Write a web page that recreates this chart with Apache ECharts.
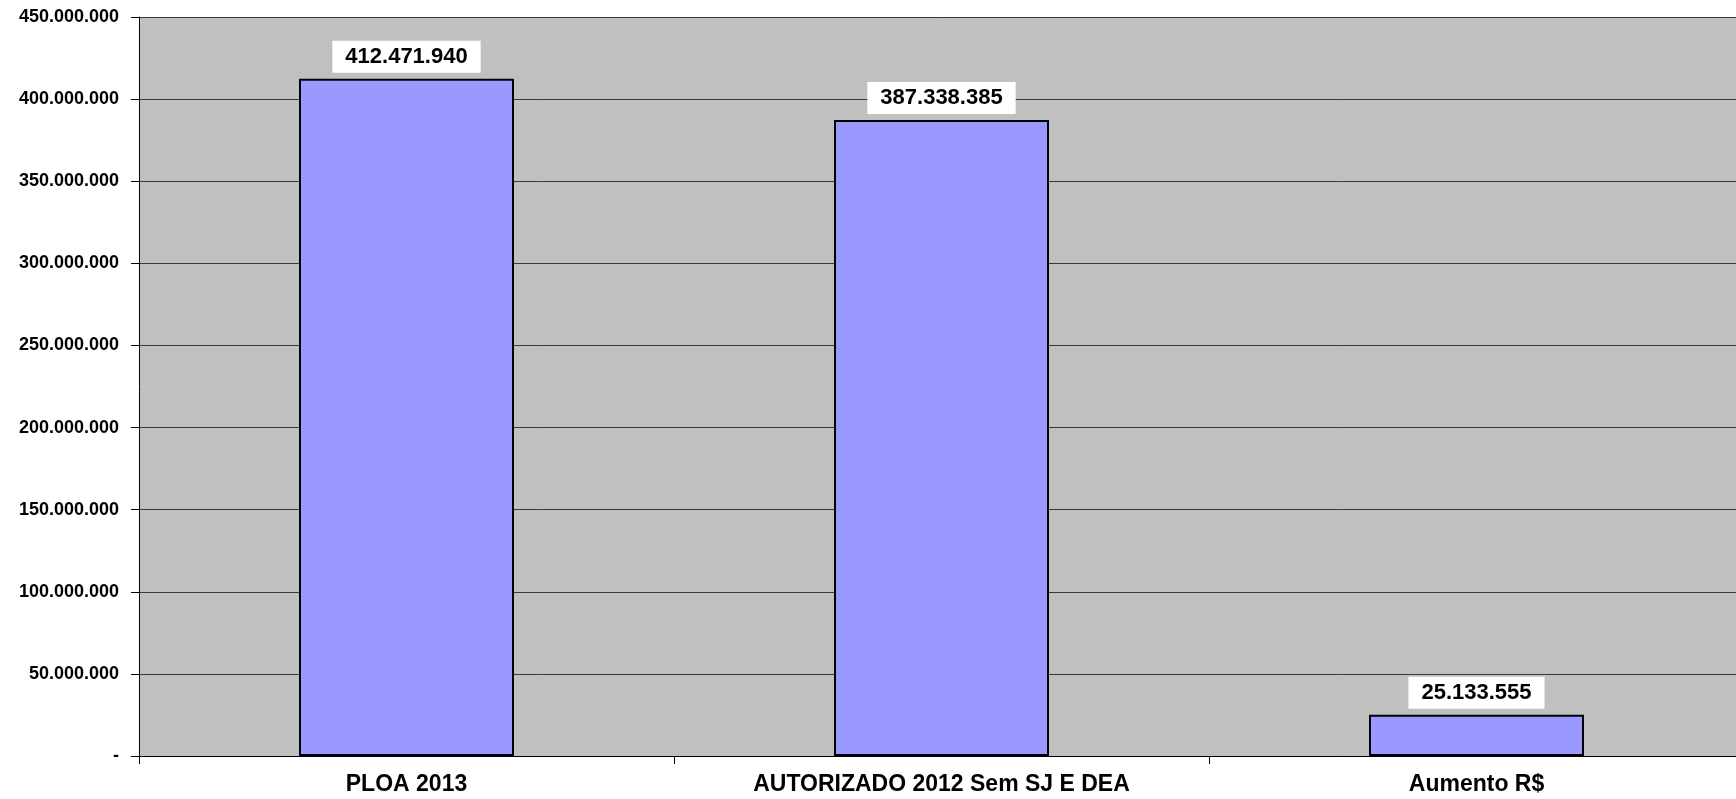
<!DOCTYPE html>
<html>
<head>
<meta charset="utf-8">
<script src="https://cdn.jsdelivr.net/npm/echarts@6/dist/echarts.min.js"></script>
<style>
  html, body { margin: 0; padding: 0; background: #fff; overflow: hidden; }
  /* plot area runs a little past the right edge of the window, like the original */
  #chart { width: 1744px; height: 799px; }
</style>
</head>
<body>
<div id="chart"></div>
<script>
const categories = ['PLOA 2013', 'AUTORIZADO 2012 Sem SJ E DEA', 'Aumento R$'];
const values = [412471940, 387338385, 25133555];

// 412471940 -> "412.471.940"
function fmt(v) {
  if (v === 0) return '-';
  return String(v).replace(/\B(?=(\d{3})+(?!\d))/g, '.');
}

const myChart = echarts.init(document.getElementById('chart'));
const font = 'Liberation Sans, Arial, sans-serif';

const option = {
  animation: false,
  grid: {
    left: 139,
    top: 17,
    right: 0,
    height: 739,
    show: true,
    backgroundColor: '#C0C0C0',
    borderWidth: 0
  },
  xAxis: {
    type: 'category',
    data: categories,
    axisLine: { lineStyle: { color: '#000', width: 1 } },
    axisTick: { show: true, length: 8, lineStyle: { color: '#000' } },
    axisLabel: {
      color: '#000',
      fontFamily: font,
      fontWeight: 'bold',
      fontSize: 23,
      margin: 17
    }
  },
  yAxis: {
    type: 'value',
    min: 0,
    max: 450000000,
    interval: 50000000,
    axisLine: { show: true, lineStyle: { color: '#000', width: 1 } },
    axisTick: { show: true, length: 8, lineStyle: { color: '#000' } },
    axisLabel: {
      color: '#000',
      fontFamily: font,
      fontWeight: 'bold',
      fontSize: 18,
      margin: 20,
      formatter: fmt
    },
    splitLine: { show: true, lineStyle: { color: '#3a3a3a', width: 1 } }
  },
  series: [
    {
      type: 'bar',
      data: values,
      barWidth: 215,
      itemStyle: {
        color: '#9999FF',
        borderColor: '#000',
        borderWidth: 2
      },
      label: {
        show: true,
        position: 'top',
        distance: 6,
        formatter: p => fmt(p.value),
        color: '#000',
        fontFamily: font,
        fontWeight: 'bold',
        fontSize: 22,
        lineHeight: 22,
        backgroundColor: '#fff',
        padding: [5, 13, 5, 13]
      }
    }
  ]
};

myChart.setOption(option);
window.addEventListener('resize', function () { myChart.resize(); });
</script>
</body>
</html>
